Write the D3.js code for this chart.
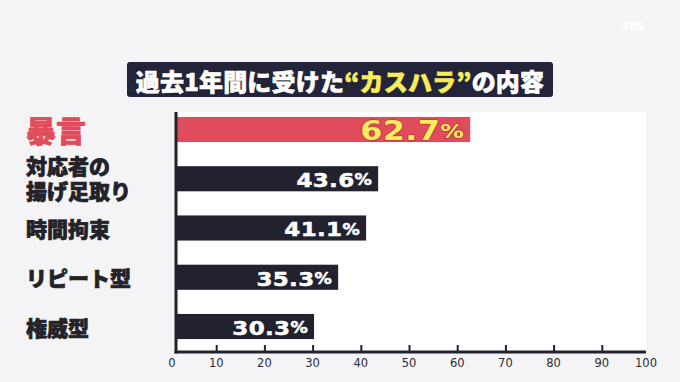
<!DOCTYPE html>
<html>
<head>
<meta charset="utf-8">
<script src="https://cdn.jsdelivr.net/npm/d3@7"></script>
<style>
  html, body { margin: 0; padding: 0; background: #f4f4f6; }
  svg { display: block; }
</style>
</head>
<body>
<script>
// ---- data ----
const categories = ["暴言", "対応者の\n揚げ足取り", "時間拘束", "リピート型", "権威型"];
const values = [62.7, 43.6, 41.1, 35.3, 30.3];
const tickValues = [0, 10, 20, 30, 40, 50, 60, 70, 80, 90, 100];
const titleParts = [
  { text: "過去1年間に受けた", hl: false },
  { text: "“カスハラ”", hl: true },
  { text: "の内容", hl: false }
];

const W = 680, H = 382;
const dark = "#22222f", red = "#e14c5c", yellow = "#f6ec5c";
const jp = "'Noto Sans CJK JP', 'Noto Sans', sans-serif";
const num = "'DejaVu Sans', sans-serif";

const svg = d3.select("body").append("svg").attr("width", W).attr("height", H);
svg.append("rect").attr("width", W).attr("height", H).attr("fill", "#f4f4f6");

// watermark
svg.append("text").attr("x", 622).attr("y", 30).attr("font-family", num)
  .attr("font-size", 10).attr("font-weight", 700).attr("fill", "#ffffff").text("SBS");

// title
svg.append("rect").attr("x", 127).attr("y", 62).attr("width", 426).attr("height", 35)
  .attr("rx", 3).attr("fill", "#23233a");
const tt = svg.append("text").attr("x", 340).attr("y", 80).attr("text-anchor", "middle")
  .attr("dominant-baseline", "central").attr("font-family", jp).attr("font-weight", 900)
  .attr("font-size", 24).attr("letter-spacing", 0.2);
tt.selectAll("tspan").data(titleParts).join("tspan")
  .attr("fill", d => d.hl ? yellow : "#ffffff")
  .attr("stroke", d => d.hl ? yellow : "#ffffff").attr("stroke-width", 0.6)
  .text(d => d.text);

// scales
const x = d3.scaleLinear().domain([0, 100]).range([168, 650]);
const y = d3.scaleBand().domain(categories).range([112, 344]).paddingInner(0.49).paddingOuter(0.1);
const axisX0 = 176, axisX1 = 646, axisY = 352;

// plot area
svg.append("rect").attr("x", axisX0).attr("y", 112).attr("width", axisX1 - axisX0).attr("height", axisY - 112)
  .attr("fill", "#ffffff");

// bars
svg.selectAll("rect.bar").data(categories).join("rect").attr("class", "bar")
  .attr("x", axisX0)
  .attr("y", d => y(d))
  .attr("width", (d, i) => x(values[i]) - axisX0)
  .attr("height", y.bandwidth())
  .attr("fill", (d, i) => i === 0 ? red : dark);

// value labels
categories.forEach((c, i) => {
  const first = i === 0;
  const g = svg.append("g")
    .attr("transform", `translate(${x(values[i]) - 6},${y(c) + y.bandwidth() / 2 + 1}) scale(${first ? 1.18 : 1.15},1)`);
  const t = g.append("text")
    .attr("x", 0).attr("y", 0)
    .attr("text-anchor", "end").attr("dominant-baseline", "central")
    .attr("font-family", num).attr("font-weight", 700)
    .attr("letter-spacing", 0.3)
    .attr("fill", first ? yellow : "#ffffff");
  if (first) t.attr("stroke", "#c23546").attr("stroke-width", 1.6).attr("paint-order", "stroke");
  else t.attr("stroke", "#ffffff").attr("stroke-width", 0.5);
  t.append("tspan").attr("font-size", first ? 27 : 20).text(values[i].toFixed(1));
  t.append("tspan").attr("font-size", first ? 20 : 15).text("%");
});

// category labels
categories.forEach((c, i) => {
  const lines = c.split("\n");
  const first = i === 0;
  const fs = first ? 30 : 21;
  const lh = 24.5;
  const cy = y(c) + y.bandwidth() / 2;
  const col = first ? red : "#222228";
  lines.forEach((ln, k) => {
    svg.append("text").attr("x", 26)
      .attr("y", cy + (k - (lines.length - 1) / 2) * lh + (lines.length > 1 ? -1 : 0))
      .attr("font-family", jp).attr("font-weight", 900)
      .attr("font-size", fs).attr("fill", col)
      .attr("stroke", col).attr("stroke-width", 0.7)
      .attr("dominant-baseline", "central")
      .text(ln);
  });
});

// axes lines
svg.append("line").attr("x1", axisX0).attr("x2", axisX0).attr("y1", 112).attr("y2", axisY + 1.5)
  .attr("stroke", dark).attr("stroke-width", 3);
svg.append("line").attr("x1", axisX0 - 1.5).attr("x2", axisX1).attr("y1", axisY).attr("y2", axisY)
  .attr("stroke", dark).attr("stroke-width", 3);

// ticks (upward) and tick labels
const ax = svg.append("g").attr("transform", `translate(0,${axisY})`)
  .call(d3.axisBottom(x).tickValues(tickValues.filter(v => v > 0 && v < 100)).tickSize(0).tickFormat(""));
ax.select(".domain").remove();
ax.selectAll(".tick").append("line").attr("y1", 0).attr("y2", -7)
  .attr("stroke", dark).attr("stroke-width", 2);

svg.selectAll("text.tl").data(tickValues).join("text").attr("class", "tl")
  .attr("x", d => d === 0 ? 172 : d === 100 ? 646 : x(d))
  .attr("y", 363).attr("text-anchor", "middle").attr("dominant-baseline", "central")
  .attr("font-family", num).attr("font-size", 11.5).attr("fill", "#2a2a36")
  .text(d => d);
</script>
</body>
</html>
